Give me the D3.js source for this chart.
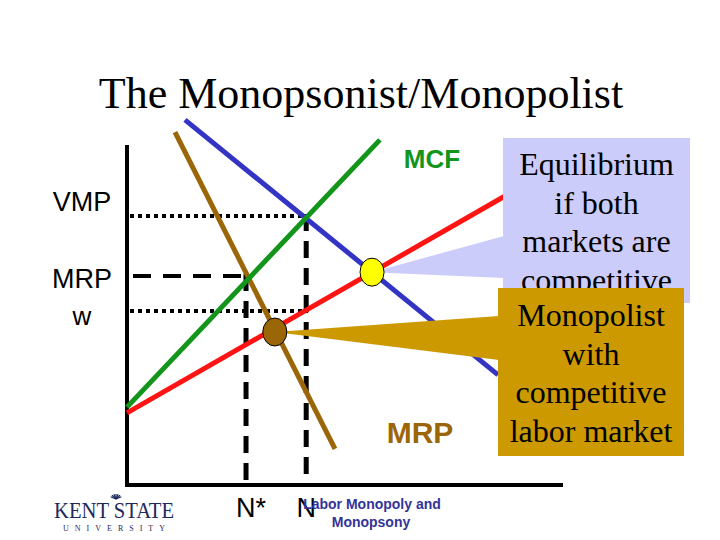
<!DOCTYPE html>
<html>
<head>
<meta charset="utf-8">
<script src="https://cdn.jsdelivr.net/npm/d3@7"></script>
<style>
  body { margin: 0; background: #fff; }
  svg { display: block; }
</style>
</head>
<body>
<div id="chart"></div>
<script>
// curves in (quantity, price) units, 0..100 on both axes
const curveNames = ['VMP', 'MRP', 'MCF', 'Supply'];
const curveColors = ['#3434c4', '#9a6608', '#12951a', '#ff1414'];
const curvePoints = [
  [[13.3, 107.4], [85.1, 32.4]],
  [[11.0, 103.8], [47.7, 10.6]],
  [[0, 22.9], [58.0, 101.5]],
  [[0, 21.2], [86.7, 85.0]]
];

// price levels and quantities
const priceLabels = ['VMP', 'MRP', 'w'];
const priceValues = [79.1, 61.5, 51.2];
const qtyLabels = ['N*', 'N'];
const qtyValues = [27.3, 41.1];

// equilibrium points
const eqPoints = [[56.2, 62.6], [33.9, 45.0]];
const eqColors = ['#ffff00', '#9a6608'];

// callouts
const calloutLines = [
  ['Equilibrium', 'if both', 'markets are', 'competitive'],
  ['Monopolist', 'with', 'competitive', 'labor market']
];
const calloutColors = ['#ccccfa', '#cc9a00'];

const width = 720, height = 540;
const svg = d3.select('#chart').append('svg')
  .attr('width', width).attr('height', height);

const x = d3.scaleLinear().domain([0, 100]).range([127, 563]);
const y = d3.scaleLinear().domain([0, 100]).range([485, 145]);

svg.append('text')
  .attr('x', 361).attr('y', 108)
  .attr('text-anchor', 'middle')
  .attr('font-family', 'Liberation Serif, Times New Roman, serif')
  .attr('font-size', 44)
  .text('The Monopsonist/Monopolist');

// axes
svg.append('line')
  .attr('x1', x(0)).attr('x2', x(0))
  .attr('y1', y(100)).attr('y2', y(0) + 2)
  .attr('stroke', '#000').attr('stroke-width', 4);
svg.append('line')
  .attr('x1', x(0) - 2).attr('x2', x(100))
  .attr('y1', y(0)).attr('y2', y(0))
  .attr('stroke', '#000').attr('stroke-width', 4);

// guide lines
[0, 2].forEach(i => {
  svg.append('line')
    .attr('x1', x(0) + 3).attr('x2', x(qtyValues[1]) + 2)
    .attr('y1', y(priceValues[i])).attr('y2', y(priceValues[i]))
    .attr('stroke', '#000').attr('stroke-width', 4)
    .attr('stroke-dasharray', '4,4');
});
svg.append('line')
  .attr('x1', x(0) + 6).attr('x2', x(qtyValues[0]) + 2)
  .attr('y1', y(priceValues[1])).attr('y2', y(priceValues[1]))
  .attr('stroke', '#000').attr('stroke-width', 4)
  .attr('stroke-dasharray', '18,12');
[[0, 1], [1, 0]].forEach(([qi, pi]) => {
  svg.append('line')
    .attr('x1', x(qtyValues[qi])).attr('x2', x(qtyValues[qi]))
    .attr('y1', y(priceValues[pi]) - 2).attr('y2', y(0))
    .attr('stroke', '#000').attr('stroke-width', 5)
    .attr('stroke-dasharray', '17,10');
});

// curves
const line = d3.line().x(d => x(d[0])).y(d => y(d[1]));
curvePoints.forEach((pts, i) => {
  svg.append('path')
    .attr('d', line(pts))
    .attr('fill', 'none')
    .attr('stroke', curveColors[i])
    .attr('stroke-width', 5);
});

// axis labels
const sans = 'Liberation Sans, Arial, sans-serif';
[[211, 27], [288, 27], [325, 26]].forEach(([by, fs], i) => {
  svg.append('text')
    .attr('x', 82).attr('y', by)
    .attr('text-anchor', 'middle')
    .attr('font-family', sans).attr('font-size', fs)
    .text(priceLabels[i]);
});
qtyLabels.forEach((t, i) => {
  svg.append('text')
    .attr('x', x(qtyValues[i]) + (i === 0 ? 5 : 0)).attr('y', 517)
    .attr('text-anchor', 'middle')
    .attr('font-family', sans).attr('font-size', 27)
    .text(t);
});
svg.append('text')
  .attr('x', 432).attr('y', 168)
  .attr('text-anchor', 'middle')
  .attr('font-family', sans).attr('font-size', 26).attr('font-weight', 'bold')
  .attr('fill', curveColors[2])
  .text('MCF');
svg.append('text')
  .attr('x', 420).attr('y', 443)
  .attr('text-anchor', 'middle')
  .attr('font-family', sans).attr('font-size', 30).attr('font-weight', 'bold')
  .attr('fill', curveColors[1])
  .text('MRP');

// callouts
const serif = 'Liberation Serif, Times New Roman, serif';
const boxes = [
  { x0: 503, x1: 690, y0: 138, y1: 303, wedge: [236, 278], base: 175 },
  { x0: 498, x1: 684, y0: 288, y1: 456, wedge: [316, 360], base: 326 }
];
boxes.forEach((b, i) => {
  const g = svg.append('g');
  const [ex, ey] = eqPoints[i];
  g.append('polygon')
    .attr('points', [[b.x0 + 1, b.wedge[0]], [x(ex), y(ey)], [b.x0 + 1, b.wedge[1]]].join(' '))
    .attr('fill', calloutColors[i]);
  g.append('rect')
    .attr('x', b.x0).attr('y', b.y0)
    .attr('width', b.x1 - b.x0).attr('height', b.y1 - b.y0)
    .attr('fill', calloutColors[i]);
  calloutLines[i].forEach((t, j) => {
    g.append('text')
      .attr('x', (b.x0 + b.x1) / 2).attr('y', b.base + j * 38.7)
      .attr('text-anchor', 'middle')
      .attr('font-family', serif).attr('font-size', 32)
      .attr('fill', '#000')
      .text(t);
  });
});

// equilibrium markers
eqPoints.forEach((p, i) => {
  svg.append('ellipse')
    .attr('cx', x(p[0])).attr('cy', y(p[1]))
    .attr('rx', 12).attr('ry', 14)
    .attr('fill', eqColors[i])
    .attr('stroke', '#000').attr('stroke-width', 1);
});

// footer
svg.append('text')
  .attr('x', 372).attr('y', 509)
  .attr('text-anchor', 'middle')
  .attr('font-family', sans).attr('font-size', 14).attr('font-weight', 'bold')
  .attr('fill', '#333399')
  .text('Labor Monopoly and');
svg.append('text')
  .attr('x', 371).attr('y', 527)
  .attr('text-anchor', 'middle')
  .attr('font-family', sans).attr('font-size', 14).attr('font-weight', 'bold')
  .attr('fill', '#333399')
  .text('Monopsony');

// university logo
const logo = svg.append('g').attr('fill', '#1f2a5c');
logo.append('text')
  .attr('x', 114).attr('y', 518)
  .attr('text-anchor', 'middle')
  .attr('font-family', serif).attr('font-size', 24)
  .attr('textLength', 120).attr('lengthAdjust', 'spacingAndGlyphs')
  .text('KENT STATE');
logo.append('text')
  .attr('x', 114).attr('y', 531)
  .attr('text-anchor', 'middle')
  .attr('font-family', serif).attr('font-size', 8)
  .attr('textLength', 102).attr('lengthAdjust', 'spacing')
  .text('UNIVERSITY');
d3.range(7).forEach(k => {
  const a = Math.PI * (0.15 + k * 0.7 / 6);
  logo.append('line')
    .attr('x1', 116).attr('y1', 499)
    .attr('x2', 116 - Math.cos(a) * 6).attr('y2', 499 - Math.sin(a) * 5)
    .attr('stroke', '#1f2a5c').attr('stroke-width', 1.2);
});
</script>
</body>
</html>
